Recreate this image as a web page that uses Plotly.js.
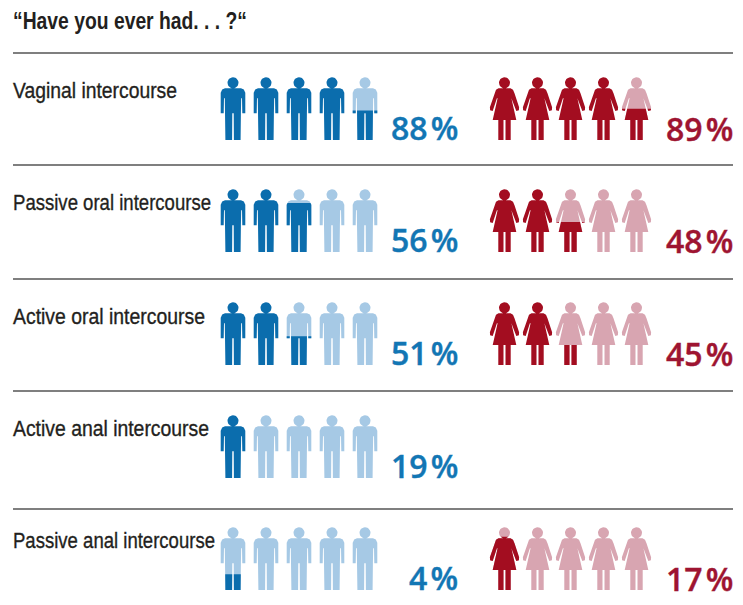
<!DOCTYPE html>
<html>
<head>
<meta charset="utf-8">
<script src="https://cdn.plot.ly/plotly-3.0.1.min.js"></script>
<style>html,body{margin:0;padding:0;background:#fff}#chart{width:743px;height:605px}</style>
</head>
<body>
<div id="chart"></div>
<script>
// ---- data ----
const categories = ["Vaginal intercourse","Passive oral intercourse","Active oral intercourse","Active anal intercourse","Passive anal intercourse"];
const menPercent = [88,56,51,19,4];
const womenPercent = [89,48,45,null,17];
// whole dark figures, and filled share of the next figure, as drawn
const menFull = [4,2,2,1,0];
const menPartial = [0.47,0.78,0.46,0,0.25];
const womenFull = [4,2,2,null,0];
const womenPartial = [0.5,0.48,0.32,null,0.85];
const chartTitle = "\u201CHave you ever had. . . ?\u201C";

// ---- layout constants ----
const W = 743, H = 605;
const ruleY = [53,165,279,391,509];
const feetY = [140,252,365,478,590];
const labelY = [90,202,316,428,540];
const labelWidths = [164,198,192,196,202];
const titleWidth = 234;
const menX = 233, womenX = 504.5, stepX = 33;
const FIG_H = 62.7, HEAD_R = 5.5, HEAD_DY = 5.5;
const FIGURES = 5;

// half outlines of the pictograms, relative to figure centre and head top
const manHalf = [[0,11],[8,11],[10.8,12.3],[12.3,15.5],[12.3,36],[9.3,36],[9,21],[8.2,21],[7.9,36],[7.6,FIG_H],[0.9,FIG_H],[0.7,36]];
const womanHalf = [[0,11],[6,11],[8.5,12.5],[10,16],[14.6,30],[14.4,33],[11.8,33.6],[7.6,21],[6.9,21],[11.8,42.7],[6.2,42.7],[6.2,FIG_H],[1,FIG_H],[1,42.7]];

function mirror(half){
  const rev = half.slice(half[0][0]===0?1:0).reverse().map(p=>[-p[0],p[1]]);
  return half.concat(rev);
}
function headPoly(){
  const p=[];
  for(let i=0;i<28;i++){const a=i/28*2*Math.PI;p.push([HEAD_R*Math.cos(a),HEAD_DY+HEAD_R*Math.sin(a)]);}
  return p;
}
function clipBelow(poly,yc){
  const out=[];
  for(let i=0;i<poly.length;i++){
    const a=poly[i],b=poly[(i+1)%poly.length];
    const ia=a[1]>=yc, ib=b[1]>=yc;
    if(ia) out.push(a);
    if(ia!==ib){const t=(yc-a[1])/(b[1]-a[1]);out.push([a[0]+t*(b[0]-a[0]),yc]);}
  }
  return out;
}
function addFigure(store,parts,cx,top,share){
  const yc = FIG_H*(1-share);
  parts.forEach(poly=>{
    const c = share>=1?poly:clipBelow(poly,yc);
    if(c.length<3) return;
    c.forEach(p=>{store.x.push(cx+p[0]);store.y.push(top+p[1]);});
    store.x.push(cx+c[0][0]);store.y.push(top+c[0][1]);
    store.x.push(null);store.y.push(null);
  });
}
function buildGroup(parts,x0,full,partial,lightColor,darkColor){
  const light={x:[],y:[]},dark={x:[],y:[]};
  full.forEach((n,r)=>{
    if(n===null) return;
    const top=feetY[r]-FIG_H;
    for(let i=0;i<FIGURES;i++){
      const cx=x0+i*stepX;
      const share = i<n?1:(i===n?partial[r]:0);
      if(share<1) addFigure(light,parts,cx,top,1);
      if(share>0) addFigure(dark,parts,cx,top,share);
    }
  });
  const mk=(s,c)=>({type:"scatter",mode:"lines",x:s.x,y:s.y,fill:"toself",fillcolor:c,line:{width:0,color:c},hoverinfo:"skip",showlegend:false,connectgaps:false});
  return [mk(light,lightColor),mk(dark,darkColor)];
}

const manParts=[mirror(manHalf),headPoly()];
const womanParts=[mirror(womanHalf),headPoly()];
const traces=[
  ...buildGroup(manParts,menX,menFull,menPartial,"#a6c9e5","#0b6dad"),
  ...buildGroup(womanParts,womenX,womenFull,womenPartial,"#d8a5b1","#a30d20")
];

const labelFont={family:'"Liberation Sans",Arial,sans-serif',size:22,color:"#231f20"};
const fitWidths=[titleWidth];
const annotations=[{xref:"x",yref:"y",x:11,y:21,text:chartTitle,showarrow:false,xanchor:"left",yanchor:"middle",font:Object.assign({},labelFont,{size:23,weight:700})}];
categories.forEach((c,r)=>{
  annotations.push({xref:"x",yref:"y",x:11,y:labelY[r],text:c,showarrow:false,xanchor:"left",yanchor:"middle",font:labelFont});
  fitWidths.push(labelWidths[r]);
});
const pctFont=color=>({family:'"Open Sans",sans-serif',size:32,weight:600,color:color});
categories.forEach((c,r)=>{
  if(menPercent[r]!==null) annotations.push({xref:"x",yref:"y",x:460,y:feetY[r]-13,text:menPercent[r]+"\u200A%",showarrow:false,xanchor:"right",yanchor:"middle",font:pctFont("#1276b4")});
  if(womenPercent[r]!==null) annotations.push({xref:"x",yref:"y",x:735,y:feetY[r]-12,text:womenPercent[r]+"\u200A%",showarrow:false,xanchor:"right",yanchor:"middle",font:pctFont("#9e1431")});
});
const shapes=ruleY.map(y=>({type:"line",xref:"x",yref:"y",x0:13,x1:733,y0:y,y1:y,line:{color:"#555555",width:1.3}}));

Plotly.newPlot("chart",traces,{
  width:W,height:H,margin:{l:0,r:0,t:0,b:0},
  paper_bgcolor:"#ffffff",plot_bgcolor:"#ffffff",showlegend:false,
  xaxis:{range:[0,W],visible:false,fixedrange:true},
  yaxis:{range:[H,0],visible:false,fixedrange:true},
  annotations:annotations,shapes:shapes,hovermode:false
},{displayModeBar:false,staticPlot:true}).then(()=>{
  // the reference face is a condensed grotesque: squeeze the real text to its widths
  const texts=document.querySelectorAll("#chart .annotation-text");
  texts.forEach((el,i)=>{
    if(i>=fitWidths.length){el.style.stroke=el.style.fill;el.style.strokeWidth="0.4px";return;}
    const b=el.getBBox();
    el.setAttribute("text-anchor","start");
    el.style.textAnchor="start";
    el.setAttribute("x",b.x);
    el.setAttribute("textLength",fitWidths[i]);
    el.setAttribute("lengthAdjust","spacingAndGlyphs");
    if(i>0){el.style.stroke="#231f20";el.style.strokeWidth="0.35px";}
  });
});
</script>
</body>
</html>
